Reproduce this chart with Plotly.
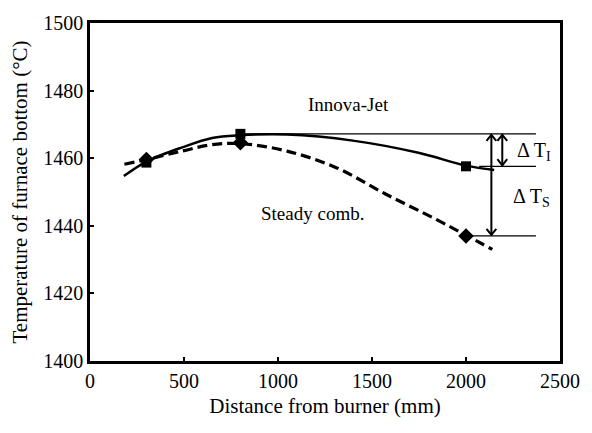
import plotly.graph_objects as go

# Measured points (distance from burner, furnace-bottom temperature)
meas_x = [300, 800, 2000]
innova_T = [1458.7, 1467.2, 1457.6]
steady_T = [1459.6, 1464.6, 1437.0]

# Trend curves through the measurements
innova_curve_x = [180, 300, 490, 650, 800, 1048, 1398, 1747, 2000, 2150]
innova_curve_T = [1454.7, 1459.0, 1463.2, 1466.0, 1466.8, 1467.0, 1465.2, 1461.6, 1457.8, 1456.5]
steady_curve_x = [183, 300, 489, 646, 802, 1048, 1310, 1572, 1834, 2000, 2140]
steady_curve_T = [1458.2, 1459.6, 1462.1, 1464.0, 1464.3, 1462.1, 1457.2, 1449.4, 1442.1, 1437.2, 1433.0]

FONT = "Liberation Serif, Times New Roman, serif"

fig = go.Figure()

fig.add_trace(go.Scatter(
    x=innova_curve_x, y=innova_curve_T, mode="lines",
    line=dict(color="black", width=2.5, shape="spline", smoothing=1.0),
    hoverinfo="skip", showlegend=False))
fig.add_trace(go.Scatter(
    x=steady_curve_x, y=steady_curve_T, mode="lines",
    line=dict(color="black", width=3.2, dash="10px,5px", shape="spline", smoothing=1.0),
    hoverinfo="skip", showlegend=False))
fig.add_trace(go.Scatter(
    x=meas_x, y=innova_T, mode="markers", name="Innova-Jet",
    marker=dict(symbol="square", size=10, color="black"), showlegend=False))
fig.add_trace(go.Scatter(
    x=meas_x, y=steady_T, mode="markers", name="Steady comb.",
    marker=dict(symbol="diamond", size=12, color="black"), showlegend=False))

# Reference levels for the temperature drops
t_top = innova_T[1]
t_inn_end = innova_T[2]
t_std_end = steady_T[2]
line_end = 2372
for x0, y in [(800, t_top), (2070, t_inn_end), (2018, t_std_end)]:
    fig.add_shape(type="line", x0=x0, x1=line_end, y0=y, y1=y,
                  line=dict(color="black", width=1.2))

# Double-headed arrows marking ΔT_S and ΔT_I (open chevron heads)
head_dx, head_dy = 26, 1.8
arrow_style = dict(color="black", width=2)
for ax_x, y_low in [(2135, t_std_end), (2193, t_inn_end)]:
    fig.add_shape(type="line", x0=ax_x, x1=ax_x, y0=y_low + 0.3, y1=t_top - 0.3,
                  line=arrow_style)
    fig.add_shape(type="path", line=arrow_style,
                  path=f"M {ax_x - head_dx},{t_top - head_dy - 0.3} L {ax_x},{t_top - 0.3} "
                       f"L {ax_x + head_dx},{t_top - head_dy - 0.3}")
    fig.add_shape(type="path", line=arrow_style,
                  path=f"M {ax_x - head_dx},{y_low + head_dy + 0.3} L {ax_x},{y_low + 0.3} "
                       f"L {ax_x + head_dx},{y_low + head_dy + 0.3}")

txt = dict(family=FONT, size=19, color="black")
fig.add_annotation(x=1373, y=1475.8, text="Innova-Jet", showarrow=False, font=txt)
fig.add_annotation(x=1184, y=1443.6, text="Steady comb.", showarrow=False, font=txt)
fig.add_annotation(x=2258, y=1462.1, text="Δ T<sub>I</sub>", showarrow=False,
                   xanchor="left", font=dict(family=FONT, size=20, color="black"))
fig.add_annotation(x=2240, y=1448.4, text="Δ T<sub>S</sub>", showarrow=False,
                   xanchor="left", font=dict(family=FONT, size=20, color="black"))

axis_common = dict(showline=True, mirror=True, linecolor="black", linewidth=2.5,
                   ticks="inside", ticklen=4, tickwidth=1.5, tickcolor="black",
                   showgrid=False, zeroline=False,
                   tickfont=dict(family=FONT, size=20, color="black"))

fig.update_xaxes(range=[0, 2500], dtick=500, tick0=0,
                 title=dict(text="Distance from burner (mm)",
                            font=dict(family=FONT, size=21, color="black"), standoff=8),
                 **axis_common)
fig.update_yaxes(range=[1400, 1500], dtick=20, tick0=1400,
                 title=dict(text="Temperature of furnace bottom (°C)",
                            font=dict(family=FONT, size=21, color="black"), standoff=10),
                 **axis_common)

fig.update_layout(width=592, height=433,
                  margin=dict(l=90, r=25, t=21, b=72),
                  paper_bgcolor="white", plot_bgcolor="white")

fig.write_html("out.html")
